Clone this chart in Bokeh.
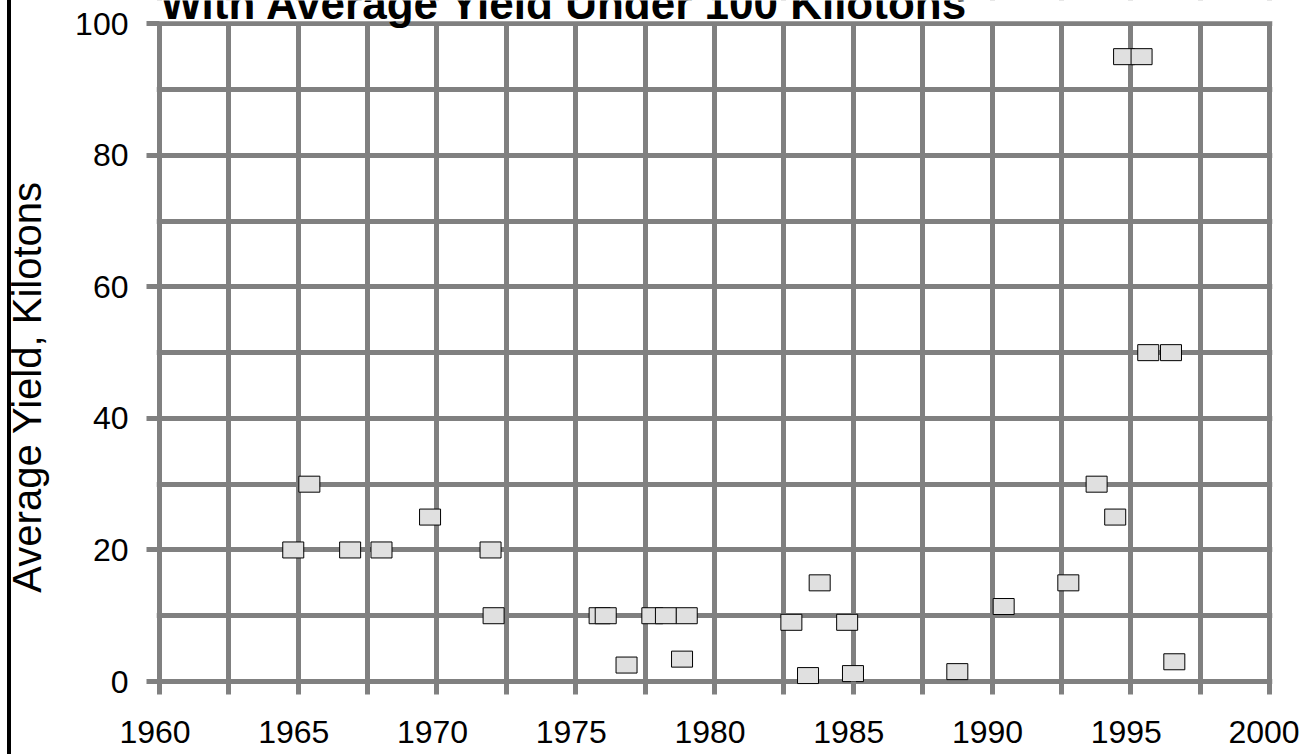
from bokeh.plotting import figure
from bokeh.models import Range1d, FixedTicker, ColumnDataSource, Label, BoxAnnotation
from bokeh.embed import file_html
from bokeh.resources import INLINE

# ---- data ----
years = [1964.82, 1965.40, 1966.87, 1968.00, 1969.75, 1971.93, 1972.04,
         1975.86, 1976.08, 1976.83, 1977.76, 1978.25, 1978.83, 1979.00,
         1982.77, 1983.37, 1983.79, 1984.78, 1984.99, 1988.75, 1990.42,
         1992.75, 1993.77, 1994.44, 1994.76, 1995.39, 1995.63, 1996.45, 1996.57]
yields = [20, 30, 20, 20, 25, 20, 10,
          10, 10, 2.5, 10, 10, 3.4, 10,
          9, 0.9, 15, 9, 1.2, 1.5, 11.4,
          15, 30, 25, 95, 95, 50, 50, 3]
x_grid_ticks = [1960 + 2.5 * i for i in range(17)]
x_label_ticks = [1960, 1965, 1970, 1975, 1980, 1985, 1990, 1995, 2000]
x_tick_labels = ["1960", "1965", "1970", "1975", "1980", "1985", "1990", "1995", "2000"]
y_label_ticks = [0, 20, 40, 60, 80, 100]
y_grid_ticks = [0, 10, 20, 30, 40, 50, 60, 70, 80, 90, 100]
title_text = "With Average Yield Under 100 Kilotons"
y_title = "Average Yield, Kilotons"

FONT = "Liberation Sans"
GRID = "#808080"
NB = "\u00a0"

p = figure(width=1308, height=754, output_backend="svg", toolbar_location=None,
           x_range=Range1d(1959.892, 2000.108), y_range=Range1d(-0.456, 103.54),
           min_border_left=156, min_border_right=36, min_border_top=0, min_border_bottom=70)
p.outline_line_color = None
p.background_fill_color = "white"
p.border_fill_color = None
p.styles = {"background": "linear-gradient(to right, #fff 0px, #fff 7px, #000 7px, "
                          "#000 11px, #fff 11px)"}

# grids
p.xgrid.ticker = FixedTicker(ticks=x_grid_ticks, minor_ticks=[])
p.ygrid.ticker = FixedTicker(ticks=y_grid_ticks, minor_ticks=[])
for g in (p.xgrid[0], p.ygrid[0]):
    g.grid_line_color = GRID
    g.grid_line_width = 5

# white cover above the top gridline (area where the title sits)
p.add_layout(BoxAnnotation(bottom=100.38, fill_color="white", fill_alpha=1.0,
                           line_color=None, level="underlay"))

# x axis
xa = p.xaxis[0]
xa.ticker = FixedTicker(ticks=x_grid_ticks, minor_ticks=[])
overrides = {t: "" for t in x_grid_ticks}
for t, lab in zip(x_label_ticks, x_tick_labels):
    overrides[t] = lab + NB
xa.major_label_overrides = overrides
xa.major_label_text_font = FONT
xa.major_label_text_font_size = "32px"
xa.major_label_text_color = "black"
xa.major_label_standoff = 19
xa.axis_line_color = None
xa.major_tick_line_color = GRID
xa.major_tick_line_width = 5
xa.major_tick_out = 10
xa.major_tick_in = 3

# y axis
ya = p.yaxis[0]
ya.ticker = FixedTicker(ticks=y_label_ticks, minor_ticks=[])
ya.axis_line_color = None
ya.major_tick_line_color = GRID
ya.major_tick_line_width = 5
ya.major_tick_out = 10
ya.major_tick_in = 3
ya.major_label_text_font = FONT
ya.major_label_text_font_size = "32px"
ya.major_label_text_color = "black"
ya.major_label_standoff = 18
ya.axis_label = y_title + NB * 8
ya.axis_label_text_font = FONT
ya.axis_label_text_font_size = "40px"
ya.axis_label_text_font_style = "normal"
ya.axis_label_text_color = "black"
ya.axis_label_standoff = 23

# data markers
src = ColumnDataSource(dict(x=years, y=yields))
p.rect("x", "y", width=21, height=16, width_units="screen", height_units="screen",
       source=src, fill_color="#e0e0e0", line_color="black", line_width=1)

# title (partially cut at top, as in the reference)
p.add_layout(Label(x=408, y=681, x_units="screen", y_units="screen", text=title_text,
                   text_align="center", text_baseline="middle",
                   text_font=FONT, text_font_size="44px", text_font_style="bold",
                   text_color="black"))

open("out.html", "w").write(file_html(p, INLINE))
